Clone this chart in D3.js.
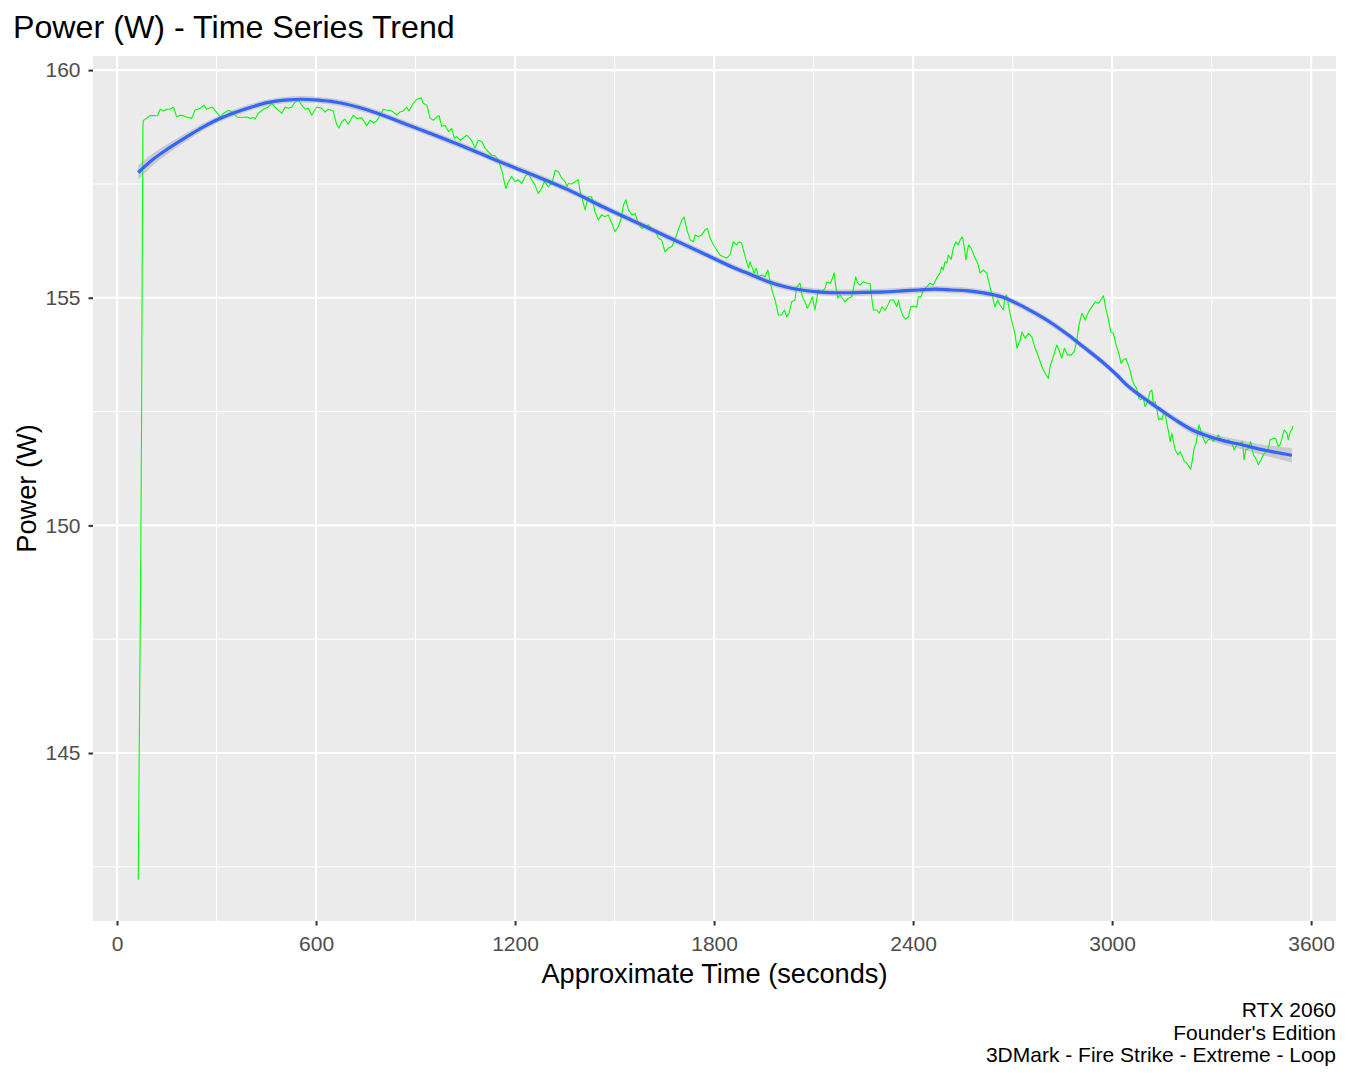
<!DOCTYPE html>
<html>
<head>
<meta charset="utf-8">
<script src="https://cdn.jsdelivr.net/npm/d3@7"></script>
<style>
  body { margin: 0; background: #fff; }
  svg { display: block; font-family: "Liberation Sans", Arial, sans-serif; }
</style>
</head>
<body>
<svg id="chart" width="1350" height="1080"></svg>
<script>
// Data: measured power trace (seconds, watts)
const powerTime = [
  64,67,71,74,76,78,79,94,99,115,123,130,140,150,160,170,180,190,200,210,
  225,235,250,263,270,286,295,311,321,336,351,361,376,391,401,411,416,426,441,456,
  466,476,486,497,507,516,527,537,547,557,567,577,587,602,617,627,637,652,662,669,677,687,
  697,712,723,738,753,763,773,783,793,803,813,823,833,843,853,863,873,880,893,904,
  917,923,934,944,954,964,971,979,989,999,1009,1017,1024,1034,1044,1054,1064,1071,1079,1089,
  1100,1110,1119,1130,1140,1150,1160,1172,1180,1190,1200,1210,1220,1230,1240,1250,1260,1270,1280,1288,
  1300,1311,1321,1331,1341,1351,1356,1361,1371,1381,1391,1396,1401,1411,1421,1431,1441,1451,1461,1471,
  1481,1492,1501,1511,1520,1527,1534,1542,1552,1562,1572,1582,1592,1602,1612,1622,1632,1642,1652,1662,
  1672,1682,1692,1703,1710,1718,1728,1738,1743,1753,1763,1773,1780,1788,1798,1808,1818,1828,1838,1848,
  1858,1868,1875,1883,
  1891,1899,1904,1908,1914,1921,1927,1934,1944,1954,1962,1969,1976,1984,1994,2004,2012,2019,2026,2034,
  2044,2049,2059,2066,2074,2081,2089,2096,2104,2110,2114,2125,2135,2140,2150,2157,2162,2167,2173,2180,
  2187,2195,2205,2215,2223,2227,2233,2240,2250,2260,2270,2275,2280,2291,2298,2306,2316,2324,2331,2341,
  2351,2356,2361,2371,2378,2386,2393,2401,2411,2416,2424,2431,2441,2451,2461,2471,2481,2486,2491,2496,
  2502,2506,2515,2521,2529,2536,2542,2549,2555,2559,2567,2575,2585,2595,2602,2612,2622,2632,2642,2647,
  2655,2662,2672,2677,2682,2692,2699,2707,2713,2723,2728,2738,2748,2758,2768,2778,2788,2798,2808,2813,
  2823,2833,2840,2848,2856,2866,2876,2886,2893,2900,2909,2919,2929,2939,2949,2959,2969,2974,2981,2989,
  2996,3004,3012,3019,3027,3034,3041,3047,3054,3061,
  3067,3074,3081,3087,3094,3099,3108,3114,3120,3124,3130,3135,3140,3145,3150,3155,3160,3165,3170,3175,
  3180,3185,3190,3198,3205,3212,3218,3225,3232,3237,3242,3247,3253,3258,3262,3268,3275,3282,3290,3298,
  3305,3313,3320,3331,3341,3351,3361,3368,3376,3386,3393,3398,3403,3411,3418,3426,3433,3441,3449,3456,
  3464,3471,3476,3486,3493,3501,3506,3512,3519,3527,3531,3537,3542,3545
]
const powerWatts = [
  142.22,145.05,148.67,152.25,155.87,158.66,158.89,158.97,159.00,159.00,159.01,159.14,159.10,159.14,159.14,159.19,158.97,159.01,159.00,158.97,
  158.94,159.12,159.16,159.23,159.14,159.19,159.12,158.97,159.05,159.12,159.07,158.97,158.96,158.97,158.94,158.96,158.92,159.05,159.14,159.19,
  159.27,159.19,159.12,159.05,159.19,159.16,159.19,159.30,159.34,159.23,159.14,159.16,159.01,159.19,159.16,159.08,159.14,159.10,158.81,158.73,158.86,158.92,
  158.81,159.01,158.94,158.95,158.78,158.90,158.84,158.88,159.01,159.14,159.12,159.12,159.08,159.01,159.08,159.10,159.19,159.10,159.27,159.36,
  159.39,159.27,159.23,158.94,158.90,158.97,159.00,158.76,158.79,158.65,158.72,158.50,158.54,158.46,158.51,158.57,158.50,158.43,158.28,158.46,
  158.43,158.28,158.21,158.13,158.12,158.02,157.80,157.40,157.55,157.66,157.55,157.59,157.51,157.66,157.73,157.59,157.48,157.29,157.40,157.55,
  157.44,157.51,157.80,157.77,157.62,157.55,157.44,157.51,157.50,157.55,157.59,157.33,157.22,156.93,157.22,157.22,156.89,156.71,156.82,156.78,
  156.82,156.63,156.45,156.56,156.74,157.04,157.15,156.93,156.82,156.85,156.63,156.52,156.56,156.60,156.52,156.49,156.31,156.27,156.01,156.09,
  156.12,156.27,156.49,156.71,156.77,156.49,156.27,156.23,156.38,156.34,156.38,156.49,156.52,156.31,156.16,156.05,155.94,155.90,155.87,155.94,
  156.23,156.16,156.23,156.20,
  155.98,155.76,155.65,155.79,155.68,155.54,155.65,155.46,155.50,155.46,155.61,155.35,155.13,154.95,154.62,154.62,154.73,154.58,154.66,154.91,
  154.95,155.24,155.32,155.02,154.91,154.77,154.88,155.02,154.73,154.99,155.17,155.13,155.21,155.35,155.32,155.43,155.55,155.24,154.99,155.06,
  154.99,154.91,154.99,155.02,155.32,155.46,155.32,155.28,155.35,155.32,155.32,155.02,154.73,154.73,154.66,154.80,154.73,154.84,154.95,154.95,
  154.80,154.95,154.77,154.58,154.53,154.58,154.80,154.82,154.79,155.02,155.02,155.17,155.24,155.32,155.28,155.43,155.54,155.68,155.61,155.79,
  155.76,155.94,155.84,156.09,156.23,156.16,156.27,156.34,156.09,155.83,156.16,156.09,155.90,155.76,155.54,155.61,155.54,155.24,154.95,154.80,
  154.95,154.84,154.73,155.02,155.06,154.66,154.44,154.22,153.89,154.07,154.25,154.11,154.22,154.14,153.89,153.71,153.49,153.34,153.23,153.49,
  153.71,153.96,153.85,153.67,153.89,153.74,153.74,153.82,154.04,154.40,154.66,154.51,154.69,154.80,154.91,154.88,154.99,155.04,154.77,154.51,
  154.25,154.22,153.96,153.82,153.56,153.63,153.67,153.56,153.41,153.19,
  153.08,153.01,152.79,152.76,152.83,152.61,152.72,152.94,152.97,152.68,152.72,152.54,152.32,152.35,152.32,152.46,152.43,152.24,152.06,151.84,
  152.02,151.84,151.66,151.55,151.62,151.51,151.40,151.37,151.29,151.23,151.44,151.69,151.80,152.02,152.21,152.06,151.91,151.80,151.88,151.91,
  151.84,151.91,151.99,151.84,151.84,151.88,151.80,151.66,151.77,151.80,151.84,151.44,151.66,151.69,151.84,151.55,151.48,151.33,151.44,151.55,
  151.62,151.69,151.88,151.91,151.91,151.73,151.77,151.91,152.10,152.02,151.88,152.06,152.10,152.18
]

// Smoothed trend (loess) and its confidence half-width
const smoothTime = [
  64,105,155,205,255,305,356,406,456,507,557,607,657,758,858,959,1059,1160,1260,1361,
  1461,1562,1662,1763,1863,1914,1964,2014,2064,2114,2165,2215,2265,2316,2366,2416,2466,2517,2567,2617,
  2667,2717,2768,2818,2868,2919,2969,3019,3039,3089,3140,3190,3240,3290,3341,3391,3441,3490,3542
]
const smoothWatts = [
  157.75,158.02,158.28,158.51,158.73,158.92,159.07,159.19,159.29,159.34,159.36,159.34,159.30,159.12,158.85,158.57,158.28,157.97,157.68,157.37,
  157.01,156.67,156.33,155.99,155.65,155.50,155.35,155.24,155.17,155.13,155.11,155.11,155.12,155.13,155.15,155.17,155.19,155.17,155.15,155.10,
  155.02,154.86,154.66,154.44,154.18,153.89,153.60,153.27,153.12,152.83,152.57,152.32,152.10,151.96,151.85,151.77,151.68,151.61,151.54
]
const smoothBand = [
  0.16,0.13,0.11,0.09,0.08,0.07,0.07,0.07,0.07,0.07,0.07,0.07,0.07,0.07,0.07,0.07,0.07,0.07,0.07,0.07,
  0.07,0.07,0.07,0.07,0.07,0.07,0.07,0.07,0.07,0.07,0.07,0.07,0.07,0.07,0.07,0.07,0.07,0.07,0.07,0.07,
  0.07,0.07,0.07,0.07,0.07,0.07,0.07,0.07,0.07,0.07,0.07,0.07,0.08,0.08,0.09,0.10,0.11,0.13,0.16
]

// Ticks
const xMajor = [0, 600, 1200, 1800, 2400, 3000, 3600]
const xMinor = [300, 900, 1500, 2100, 2700, 3300]
const yMajor = [145, 150, 155, 160]
const yMinor = [142.5, 147.5, 152.5, 157.5]

const captionLines = ["RTX 2060", "Founder's Edition", "3DMark - Fire Strike - Extreme - Loop"]

// Panel
const panel = {left: 93, right: 1336, top: 56, bottom: 921}

const x = d3.scaleLinear().domain([-72.4, 3675]).range([panel.left, panel.right])
const y = d3.scaleLinear().domain([141.31, 160.31]).range([panel.bottom, panel.top])

const svg = d3.select("#chart")

svg.append("rect")
    .attr("x", panel.left).attr("y", panel.top)
    .attr("width", panel.right - panel.left).attr("height", panel.bottom - panel.top)
    .attr("fill", "#EBEBEB")

svg.append("clipPath").attr("id", "clip")
  .append("rect")
    .attr("x", panel.left).attr("y", panel.top)
    .attr("width", panel.right - panel.left).attr("height", panel.bottom - panel.top)

// Grid lines
const grid = svg.append("g").attr("stroke", "#FFFFFF")
grid.selectAll(".xminor").data(xMinor).join("line")
    .attr("x1", d => x(d)).attr("x2", d => x(d))
    .attr("y1", panel.top).attr("y2", panel.bottom).attr("stroke-width", 1.1)
grid.selectAll(".yminor").data(yMinor).join("line")
    .attr("y1", d => y(d)).attr("y2", d => y(d))
    .attr("x1", panel.left).attr("x2", panel.right).attr("stroke-width", 1.1)
grid.selectAll(".xmajor").data(xMajor).join("line")
    .attr("x1", d => x(d)).attr("x2", d => x(d))
    .attr("y1", panel.top).attr("y2", panel.bottom).attr("stroke-width", 2.1)
grid.selectAll(".ymajor").data(yMajor).join("line")
    .attr("y1", d => y(d)).attr("y2", d => y(d))
    .attr("x1", panel.left).attr("x2", panel.right).attr("stroke-width", 2.1)

const plot = svg.append("g").attr("clip-path", "url(#clip)")

// Power trace
const trace = powerTime.map((t, i) => ({t: t, w: powerWatts[i]}))
plot.append("path")
    .datum(trace)
    .attr("fill", "none")
    .attr("stroke", "#00FF00")
    .attr("stroke-width", 1.1)
    .attr("stroke-linejoin", "round")
    .attr("d", d3.line().x(d => x(d.t)).y(d => y(d.w)))

// Smooth ribbon + line
const trend = smoothTime.map((t, i) => ({t: t, w: smoothWatts[i], se: smoothBand[i]}))
plot.append("path")
    .datum(trend)
    .attr("fill", "#999999")
    .attr("fill-opacity", 0.4)
    .attr("d", d3.area().curve(d3.curveMonotoneX)
        .x(d => x(d.t)).y0(d => y(d.w - d.se)).y1(d => y(d.w + d.se)))
plot.append("path")
    .datum(trend)
    .attr("fill", "none")
    .attr("stroke", "#3366FF")
    .attr("stroke-width", 3.2)
    .attr("d", d3.line().curve(d3.curveMonotoneX).x(d => x(d.t)).y(d => y(d.w)))

// Axes
const styleAxis = g => {
    g.select(".domain").remove()
    g.selectAll(".tick line").attr("stroke", "#333333").attr("stroke-width", 2)
    g.selectAll(".tick text").attr("fill", "#4D4D4D").attr("font-size", 21)
        .attr("font-family", "'Liberation Sans', Arial, sans-serif")
}
svg.append("g")
    .attr("transform", `translate(0,${panel.bottom})`)
    .call(d3.axisBottom(x).tickValues(xMajor).tickSize(4.5).tickPadding(10.5).tickFormat(d3.format("d")))
    .call(styleAxis)
svg.append("g")
    .attr("transform", `translate(${panel.left},0)`)
    .call(d3.axisLeft(y).tickValues(yMajor).tickSize(4.5).tickPadding(8).tickFormat(d3.format("d")))
    .call(styleAxis)

// Titles
svg.append("text")
    .attr("x", 13).attr("y", 37.5)
    .attr("font-size", 32.2).attr("fill", "#000")
    .text("Power (W) - Time Series Trend")

svg.append("text")
    .attr("x", (panel.left + panel.right) / 2).attr("y", 983)
    .attr("text-anchor", "middle")
    .attr("font-size", 27.2).attr("fill", "#000")
    .text("Approximate Time (seconds)")

svg.append("text")
    .attr("transform", `translate(36,${(panel.top + panel.bottom) / 2}) rotate(-90)`)
    .attr("text-anchor", "middle")
    .attr("font-size", 27.2).attr("fill", "#000")
    .text("Power (W)")

svg.append("g").selectAll("text").data(captionLines).join("text")
    .attr("x", panel.right)
    .attr("y", (d, i) => 1016.7 + i * 22.8)
    .attr("text-anchor", "end")
    .attr("font-size", 21).attr("fill", "#000")
    .text(d => d)
</script>
</body>
</html>
